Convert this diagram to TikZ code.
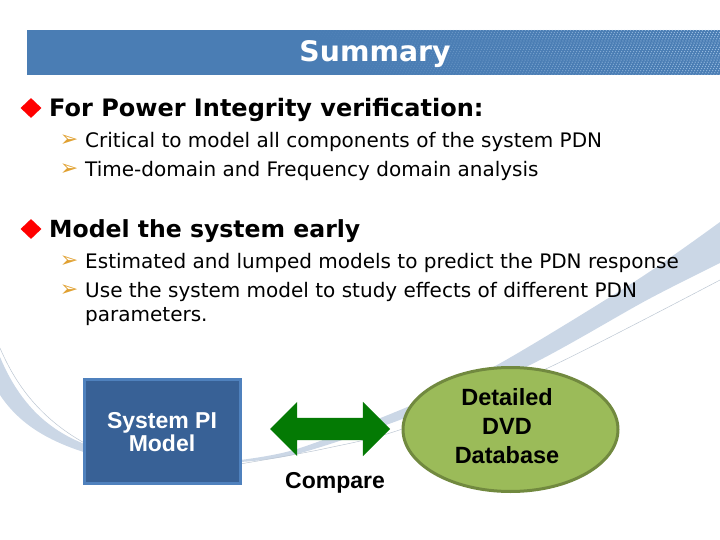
\documentclass[tikz,border=0pt]{standalone}
\usepackage{fontspec}
\setmainfont{DejaVu Sans}
\newfontfamily\arialfont{Liberation Sans}
\usetikzlibrary{shapes.geometric,shapes.arrows}
\definecolor{barblue}{HTML}{4A7DB4}
\definecolor{barlight}{HTML}{B4D2F0}
\definecolor{swoosh}{HTML}{CBD7E6}
\definecolor{boxblue}{HTML}{386196}
\definecolor{boxedge}{HTML}{4F81BD}
\definecolor{ovalgreen}{HTML}{9BBB59}
\definecolor{ovaledge}{HTML}{71893F}
\definecolor{arrowgreen}{HTML}{047A04}
\definecolor{tipgold}{HTML}{E0A030}
\tikzset{
  headline/.style={anchor=west,inner sep=0pt,font=\fontsize{24}{24}\selectfont\bfseries},
  subline/.style={anchor=west,inner sep=0pt,align=left,font=\fontsize{20}{24}\selectfont},
  bigmark/.style={diamond,fill=red,inner sep=0pt,minimum width=21pt,minimum height=20pt,aspect=1},
  submark/.style={inner sep=0pt,text=tipgold,font=\fontsize{22}{22}\selectfont},
  thinline/.style={swoosh!80!gray,line width=.5pt}
}
\begin{document}
\begin{tikzpicture}
  [x=1pt,y=-1pt]
  \useasboundingbox (0,0) rectangle (720,540);
  % swoosh behind everything
  \fill[swoosh] (0,357) .. controls (20,405) and (50,432) .. (90,446)
     -- (90,454) .. controls (50,442) and (20,425) .. (0,395) -- cycle;
  \fill[swoosh] plot[smooth] coordinates {(240,460) (297,449) (405,408) (497,365) (637,280) (720,222)}
     -- plot[smooth] coordinates {(720,263) (647,300) (530,365) (405,418) (297,454) (240,462)} -- cycle;
  \draw[thinline] (0,348) .. controls (20,395) and (50,425) .. (90,446);
  \draw[thinline] plot[smooth] coordinates {(240,464) (323,449) (405,428) (550,367) (720,280)};
  % title bar
  \fill[barblue] (27,30) rectangle (720,75);
  \begin{scope}
    \clip (27,30) rectangle (720,75);
    \foreach \u [evaluate=\u as \op using {(\u-300)/420*.8}] in {300,303,...,720}
      \draw[barlight,opacity=\op,line width=1pt,dash pattern=on 1pt off 2pt] (\u,30) -- (\u+45,75);
  \end{scope}
  \node[inner sep=0pt,text=white,font=\fontsize{28.3}{28}\selectfont\bfseries] (title) at (375,54) {Summary};
  % first block
  \node[bigmark] (mark1) at (31,108) {};
  \node[headline] (head1) at (49,110) {For Power Integrity verification:};
  \node[submark] (tip1) at (69,141) {➢};
  \node[subline] (line1) at (85,142) {Critical to model all components of the system PDN};
  \node[submark] (tip2) at (69,170) {➢};
  \node[subline] (line2) at (85,171) {Time-domain and Frequency domain analysis};
  % second block
  \node[bigmark] (mark2) at (31,229) {};
  \node[headline,font=\fontsize{23.55}{24}\selectfont\bfseries] (head2) at (49,231) {Model the system early};
  \node[submark] (tip3) at (69,262) {➢};
  \node[subline] (line3) at (85,263) {Estimated and lumped models to predict the PDN response};
  \node[submark] (tip4) at (69,291) {➢};
  \node[subline] (line4) at (85,304) {Use the system model to study effects of different PDN\\parameters.};
  % bottom row
  \node[draw=boxedge,fill=boxblue,line width=3pt,minimum width=156pt,minimum height=104pt] (pimodel) at (162.5,431.5) {};
  \node[inner sep=0pt,align=center,text=white,font=\arialfont\fontsize{23}{23}\selectfont\bfseries] (pitext) at (162,432) {System PI\\Model};
  \node[ellipse,draw=ovaledge,fill=ovalgreen,line width=3pt,minimum width=215pt,minimum height=124pt] (dvdbase) at (510.5,429.5) {};
  \node[inner sep=0pt,align=center,font=\arialfont\fontsize{23.5}{29}\selectfont\bfseries] (dvdtext) at (507,426) {Detailed\\DVD\\Database};
  \node[double arrow,fill=arrowgreen,minimum height=120pt,text height=22pt,text depth=0pt,text width=1pt,
    double arrow head extend=16pt,inner sep=0pt,double arrow tip angle=90] (cmp) at (330,429) {};
  \node[inner sep=0pt,font=\arialfont\fontsize{23}{23}\selectfont\bfseries] (cmplabel) at (335,483) {Compare};
\end{tikzpicture}
\end{document}
